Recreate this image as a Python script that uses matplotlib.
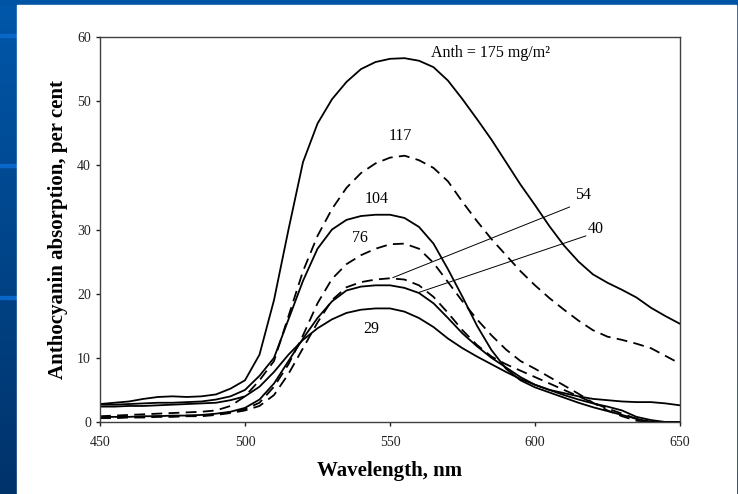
import numpy as np
import matplotlib.pyplot as plt
from matplotlib.patches import Rectangle
from matplotlib.colors import LinearSegmentedColormap

plt.rcParams['font.family'] = ['Liberation Serif', 'DejaVu Serif']

wavelength = list(range(450, 655, 5))

a175 = [2.8, 3.0, 3.2, 3.6, 3.9, 4.0, 3.9, 4.0, 4.3, 5.2,
        6.5, 10.5, 19.0, 30.0, 40.5, 46.5, 50.3, 53.0, 55.0, 56.1,
        56.6, 56.7, 56.3, 55.3, 53.2, 50.3, 47.2, 44.0, 40.5, 37.0,
        33.8, 30.5, 27.5, 25.0, 23.0, 21.7, 20.6, 19.4, 17.8, 16.5, 15.3]
a117 = [0.9, 1.0, 1.1, 1.2, 1.3, 1.4, 1.5, 1.6, 1.8, 2.5,
        4.0, 6.5, 9.5, 16.5, 23.5, 29.0, 33.2, 36.5, 38.8, 40.3,
        41.2, 41.5, 40.8, 39.6, 37.5, 34.3, 31.3, 28.5, 26.0, 23.5,
        21.3, 19.3, 17.5, 15.8, 14.3, 13.3, 12.8, 12.2, 11.5, 10.3, 9.1]
a104 = [2.7, 2.7, 2.8, 2.9, 3.0, 3.0, 3.1, 3.2, 3.5, 4.0,
        5.0, 7.2, 10.0, 16.0, 22.0, 27.0, 30.0, 31.5, 32.1, 32.3,
        32.3, 31.8, 30.4, 27.8, 23.8, 19.5, 15.0, 11.2, 8.3, 6.5,
        5.4, 4.6, 3.8, 3.0, 2.3, 1.7, 1.1, 0.5, 0.0, 0.0, 0.0]
a76 = [0.7, 0.7, 0.8, 0.8, 0.9, 0.9, 1.0, 1.0, 1.2, 1.5,
       2.0, 3.0, 5.5, 9.0, 13.5, 18.5, 22.3, 24.6, 26.0, 27.0,
       27.7, 27.8, 27.0, 24.8, 21.8, 18.8, 16.0, 13.5, 11.3, 9.5,
       8.3, 7.0, 5.7, 4.4, 3.0, 1.8, 0.9, 0.2, 0.0, 0.0, 0.0]
a54 = [0.6, 0.6, 0.7, 0.7, 0.8, 0.8, 0.9, 0.9, 1.1, 1.4,
       1.8, 2.5, 4.2, 7.5, 11.5, 15.5, 19.0, 21.0, 21.8, 22.2,
       22.4, 22.2, 21.3, 19.5, 17.0, 14.3, 12.0, 10.2, 9.0, 8.0,
       7.0, 6.0, 5.0, 4.0, 3.0, 2.1, 1.3, 0.5, 0.0, 0.0, 0.0]
a40 = [0.8, 0.8, 0.8, 0.9, 0.9, 1.0, 1.0, 1.1, 1.3, 1.6,
       2.2, 3.5, 6.0, 9.5, 13.0, 16.2, 18.8, 20.5, 21.1, 21.3,
       21.3, 20.9, 20.1, 18.5, 16.2, 13.8, 11.8, 10.0, 8.5, 7.0,
       5.8, 5.0, 4.2, 3.5, 2.9, 2.4, 1.8, 0.8, 0.3, 0.0, 0.0]
a29 = [2.4, 2.4, 2.5, 2.5, 2.6, 2.7, 2.8, 2.9, 3.0, 3.4,
       4.0, 5.5, 7.8, 10.5, 12.8, 14.6, 16.0, 17.0, 17.5, 17.7,
       17.7, 17.2, 16.2, 14.8, 13.0, 11.5, 10.2, 9.0, 7.8, 6.7,
       5.8, 5.0, 4.5, 4.0, 3.6, 3.4, 3.2, 3.1, 3.1, 2.9, 2.6]

fig = plt.figure(figsize=(7.38, 4.94), dpi=100)

# slide background: blue gradient, light bars, white panel
bg = fig.add_axes([0, 0, 1, 1], zorder=-10)
bg.set_xlim(0, 738)
bg.set_ylim(494, 0)
bg.axis('off')
cmap = LinearSegmentedColormap.from_list('slide', ['#0057aa', '#00336a'])
bg.imshow(np.linspace(0, 1, 100).reshape(-1, 1), cmap=cmap, aspect='auto',
          extent=[0, 738, 494, 0])
bg.add_patch(Rectangle((0, 0), 738, 5, color='#0054a6'))
for yy in [34, 164, 296]:
    bg.add_patch(Rectangle((0, yy), 17, 3, color='#0a66c8'))
bg.add_patch(Rectangle((17, 5), 719, 489, color='white'))

ax = fig.add_axes([100 / 738, 72 / 494, 580 / 738, 385 / 494])

ax.plot(wavelength, a175, color='black', lw=1.3)
ax.plot(wavelength, a117, color='black', lw=1.3, dashes=(6, 3.5))
ax.plot(wavelength, a104, color='black', lw=1.3)
ax.plot(wavelength, a76, color='black', lw=1.3, dashes=(6, 3.5))
ax.plot(wavelength, a54, color='black', lw=1.3, dashes=(6, 3.5))
ax.plot(wavelength, a40, color='black', lw=1.3)
ax.plot(wavelength, a29, color='black', lw=1.3)

ax.set_xlim(450, 650)
ax.set_ylim(0, 60)
ax.set_xticks([450, 500, 550, 600, 650])
ax.set_yticks([0, 10, 20, 30, 40, 50, 60])
ax.tick_params(direction='out', length=3, width=1, labelsize=10, colors='#222222')
ax.tick_params(axis='x', pad=7)
for s in ax.spines.values():
    s.set_color('#404040')
    s.set_linewidth(1.0)

ax.set_xlabel('Wavelength, nm', fontsize=15, fontweight='bold')
ax.set_ylabel('Anthocyanin absorption, per cent', fontsize=15, fontweight='bold')
ax.xaxis.set_label_coords(0.5, -0.1)
ax.yaxis.set_label_coords(-0.055, 0.5)

ax.text(564, 57.5, 'Anth = 175 mg/m\u00b2', fontsize=11.5, ha='left', va='center')
ax.text(553.4, 44.6, '117', fontsize=11.5, ha='center', va='center')
ax.text(545.3, 34.8, '104', fontsize=11.5, ha='center', va='center')
ax.text(539.7, 28.7, '76', fontsize=11.5, ha='center', va='center')
ax.text(543.4, 14.5, '29', fontsize=11.5, ha='center', va='center')
ax.text(616.7, 35.4, '54', fontsize=11.5, ha='center', va='center')
ax.text(620.8, 30.1, '40', fontsize=11.5, ha='center', va='center')
ax.plot([611.9, 551.0], [33.5, 22.5], color='black', lw=0.7)
ax.plot([617.5, 560.0], [29.0, 20.2], color='black', lw=0.7)

fig.savefig('out.png', dpi=100)
